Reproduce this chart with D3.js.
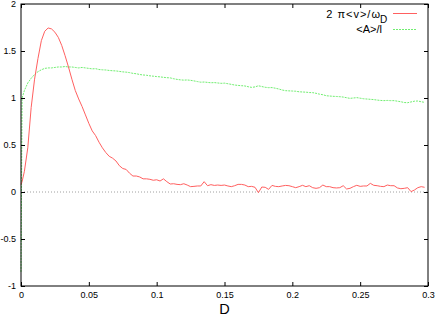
<!DOCTYPE html>
<html>
<head>
<meta charset="utf-8">
<script src="https://cdn.jsdelivr.net/npm/d3@7"></script>
<style>
  body { margin: 0; background: #fff; }
  svg { display: block; font-family: "Liberation Sans", Arial, sans-serif; }
</style>
</head>
<body>
<svg width="436" height="315"></svg>
<script>
// D values (shared by both series)
let dValues = [0, 0.0008, 0.0025, 0.005, 0.0075, 0.01, 0.0125, 0.015, 0.0175, 0.02,
  0.0225, 0.025, 0.0275, 0.03, 0.0325, 0.035, 0.0375, 0.04, 0.0425, 0.045,
  0.0475, 0.05, 0.0525, 0.055, 0.0575, 0.06, 0.0625, 0.065, 0.0675, 0.07,
  0.0725, 0.075, 0.0775, 0.08, 0.0825, 0.085, 0.0875, 0.09, 0.0925, 0.095,
  0.0975, 0.1, 0.1025, 0.105, 0.1075, 0.11, 0.1125, 0.115, 0.1175, 0.12,
  0.1225, 0.125, 0.1275, 0.13, 0.1325, 0.135, 0.1375, 0.14, 0.1425, 0.145,
  0.1475, 0.15, 0.1525, 0.155, 0.1575, 0.16, 0.1625, 0.165, 0.1675, 0.17,
  0.1725, 0.175, 0.1775, 0.18, 0.1825, 0.185, 0.1875, 0.19, 0.1925, 0.195,
  0.1975, 0.2, 0.2025, 0.205, 0.2075, 0.21, 0.2125, 0.215, 0.2175, 0.22,
  0.2225, 0.225, 0.2275, 0.23, 0.2325, 0.235, 0.2375, 0.24, 0.2425, 0.245,
  0.2475, 0.25, 0.2525, 0.255, 0.2575, 0.26, 0.2625, 0.265, 0.2675, 0.27,
  0.2725, 0.275, 0.2775, 0.28, 0.2825, 0.285, 0.2875, 0.29, 0.2925, 0.295, 0.2975]

// 2 pi <v> / omega_D
let velocity = [0.08, 0.11, 0.22, 0.47, 0.9, 1.2, 1.42, 1.61, 1.71, 1.745,
  1.735, 1.7, 1.645, 1.56, 1.45, 1.33, 1.2, 1.08, 0.99, 0.91,
  0.82, 0.73, 0.65, 0.6, 0.53, 0.47, 0.42, 0.38, 0.36, 0.33,
  0.28, 0.25, 0.24, 0.2, 0.17, 0.17, 0.16, 0.14, 0.14, 0.135,
  0.125, 0.13, 0.117, 0.14, 0.11, 0.085, 0.088, 0.081, 0.078, 0.088,
  0.074, 0.057, 0.06, 0.064, 0.064, 0.11, 0.067, 0.078, 0.07, 0.074,
  0.07, 0.074, 0.064, 0.057, 0.067, 0.081, 0.081, 0.074, 0.057, 0.06,
  0.05, -0.007, 0.053, 0.05, 0.028, 0.07, 0.06, 0.057, 0.064, 0.07,
  0.067, 0.057, 0.046, 0.057, 0.071, 0.057, 0.067, 0.046, 0.039, 0.046,
  0.074, 0.057, 0.057, 0.046, 0.043, 0.046, 0.067, 0.032, 0.039, 0.057,
  0.071, 0.06, 0.064, 0.064, 0.092, 0.071, 0.067, 0.06, 0.057, 0.074,
  0.067, 0.067, 0.043, 0.035, 0.039, 0.046, 0.004, 0.021, 0.046, 0.057, 0.05]

// <A>/l
let amplitude = [-0.85, 1.0, 1.08, 1.16, 1.21, 1.25, 1.28, 1.3, 1.315, 1.32,
  1.32, 1.325, 1.33, 1.33, 1.335, 1.33, 1.33, 1.325, 1.32, 1.325,
  1.32, 1.315, 1.31, 1.312, 1.303, 1.3, 1.298, 1.293, 1.29, 1.288,
  1.283, 1.278, 1.275, 1.27, 1.262, 1.258, 1.25, 1.245, 1.242, 1.236,
  1.232, 1.228, 1.225, 1.22, 1.216, 1.214, 1.205, 1.198, 1.193, 1.19,
  1.192, 1.188, 1.182, 1.175, 1.168, 1.17, 1.166, 1.162, 1.164, 1.16,
  1.156, 1.158, 1.152, 1.145, 1.138, 1.134, 1.131, 1.128, 1.12, 1.113,
  1.118, 1.13, 1.122, 1.114, 1.11, 1.111, 1.104, 1.096, 1.085, 1.078,
  1.076, 1.074, 1.072, 1.066, 1.064, 1.062, 1.058, 1.057, 1.05, 1.041,
  1.035, 1.024, 1.021, 1.018, 1.016, 1.014, 1.01, 1.003, 0.996, 1.0,
  1.004, 0.998, 0.992, 0.989, 0.986, 0.983, 0.978, 0.974, 0.972, 0.974,
  0.972, 0.972, 0.966, 0.96, 0.952, 0.95, 0.958, 0.966, 0.968, 0.96, 0.954]

let xTicks = [0, 0.05, 0.1, 0.15, 0.2, 0.25, 0.3]
let xTickLabels = ['0', '0.05', '0.1', '0.15', '0.2', '0.25', '0.3']
let yTicks = [-1, -0.5, 0, 0.5, 1, 1.5, 2]
let yTickLabels = ['-1', '-0.5', '0', '0.5', '1', '1.5', '2']

let plotLeft = 21, plotRight = 428, plotTop = 4, plotBottom = 286

let x = d3.scaleLinear().domain([0, 0.3]).range([plotLeft, plotRight])
let y = d3.scaleLinear().domain([-1, 2]).range([plotBottom, plotTop])

let svg = d3.select('svg')

// zero line
svg.append('line')
  .attr('x1', x(0)).attr('x2', x(0.3))
  .attr('y1', y(0)).attr('y2', y(0))
  .attr('stroke', '#a0a0a0')
  .attr('stroke-width', 1)
  .attr('stroke-dasharray', '1,2')

let line = vals => d3.line()
  .x((d, i) => x(dValues[i]))
  .y(d => y(d))(vals)

svg.append('path')
  .attr('d', line(amplitude))
  .attr('fill', 'none')
  .attr('stroke', '#70ee70')
  .attr('stroke-width', 1)
  .attr('stroke-dasharray', '2,1')

svg.append('path')
  .attr('d', line(velocity))
  .attr('fill', 'none')
  .attr('stroke', '#ff6060')
  .attr('stroke-width', 1)

// axes with inward ticks, mirrored on top and right
function styleAxis(g) {
  g.select('.domain').remove()
  g.selectAll('line').attr('stroke', '#000')
  g.selectAll('text').attr('font-size', 9).attr('font-family', '"Liberation Sans", Arial, sans-serif').attr('fill', '#000')
}

svg.append('g')
  .attr('transform', `translate(0,${plotBottom})`)
  .call(d3.axisBottom(x).tickValues(xTicks).tickFormat((d, i) => xTickLabels[i]).tickSizeInner(-4).tickSizeOuter(0).tickPadding(6))
  .call(styleAxis)

svg.append('g')
  .attr('transform', `translate(0,${plotTop})`)
  .call(d3.axisTop(x).tickValues(xTicks).tickFormat('').tickSizeInner(-4).tickSizeOuter(0))
  .call(styleAxis)

svg.append('g')
  .attr('transform', `translate(${plotLeft},0)`)
  .call(d3.axisLeft(y).tickValues(yTicks).tickFormat((d, i) => yTickLabels[i]).tickSizeInner(-4).tickSizeOuter(0).tickPadding(5))
  .call(styleAxis)

svg.append('g')
  .attr('transform', `translate(${plotRight},0)`)
  .call(d3.axisRight(y).tickValues(yTicks).tickFormat('').tickSizeInner(-4).tickSizeOuter(0))
  .call(styleAxis)

// frame
svg.append('rect')
  .attr('x', plotLeft).attr('y', plotTop)
  .attr('width', plotRight - plotLeft).attr('height', plotBottom - plotTop)
  .attr('fill', 'none')
  .attr('stroke', '#000')
  .attr('stroke-width', 1)

// x label
svg.append('text')
  .attr('x', (plotLeft + plotRight) / 2).attr('y', 313.5)
  .attr('text-anchor', 'middle')
  .attr('font-size', 14.5)
  .text('D')

// legend
let legend = svg.append('g').attr('font-size', 11)

legend.append('text')
  .attr('x', 381).attr('y', 18)
  .attr('text-anchor', 'end')
  .attr('letter-spacing', 1)
  .text('2 π<v>/ω')
legend.append('text')
  .attr('x', 380).attr('y', 22.5)
  .attr('font-size', 10)
  .text('D')

legend.append('text')
  .attr('x', 382).attr('y', 33)
  .attr('text-anchor', 'end')
  .text('<A>/l')

legend.append('line')
  .attr('x1', 393).attr('x2', 417)
  .attr('y1', 13.5).attr('y2', 13.5)
  .attr('stroke', '#ff6060')

legend.append('line')
  .attr('x1', 393).attr('x2', 417)
  .attr('y1', 29.5).attr('y2', 29.5)
  .attr('stroke', '#70ee70')
  .attr('stroke-dasharray', '2,1')
</script>
</body>
</html>
